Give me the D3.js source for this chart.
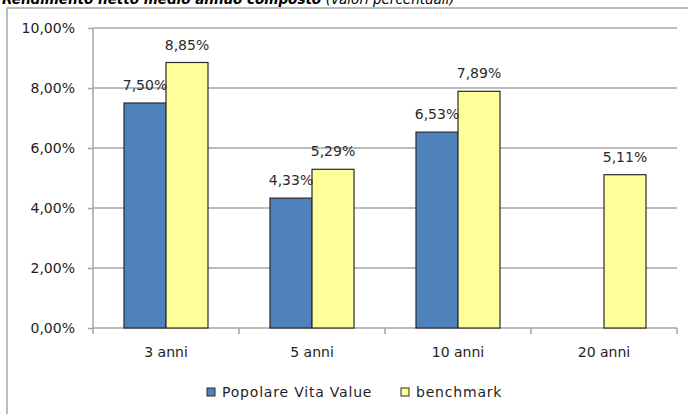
<!DOCTYPE html>
<html>
<head>
<meta charset="utf-8">
<script src="https://cdn.jsdelivr.net/npm/d3@7"></script>
<style>
  body { margin: 0; background: #fff; }
  text { font-family: "DejaVu Sans", Verdana, sans-serif; }
</style>
</head>
<body>
<div id="vis"></div>
<script>
// chart size
var width = 688;
var height = 414;

var categories = ['3 anni', '5 anni', '10 anni', '20 anni'];
var series = ['Popolare Vita Value', 'benchmark'];
var fondo = [7.50, 4.33, 6.53, null];
var benchmark = [8.85, 5.29, 7.89, 5.11];
var ticks = [0, 2, 4, 6, 8, 10];
var colours = ['#4f81bd', '#ffff99'];

var plot = { left: 93, right: 677, top: 28, bottom: 328 };

var svg = d3.select('#vis')
    .append('svg')
    .attr('width', width)
    .attr('height', height);

// frame around the chart
svg.append('rect')
    .attr('x', 7)
    .attr('y', 8)
    .attr('width', 700)
    .attr('height', 420)
    .attr('fill', 'none')
    .attr('stroke', '#a6a6a6')
    .attr('stroke-width', 1.5);

// title, cut at the top like the original
var title = svg.append('text')
    .attr('x', 2)
    .attr('y', 4)
    .attr('font-size', '13.5px')
    .attr('fill', '#000');
title.append('tspan')
    .attr('font-weight', 'bold')
    .attr('font-style', 'italic')
    .text('Rendimento netto medio annuo composto ');
title.append('tspan')
    .attr('font-style', 'italic')
    .text('(valori percentuali)');

var x_scale = d3.scaleBand()
    .domain(categories)
    .range([plot.left, plot.right]);

var x_inner = d3.scaleBand()
    .domain(series)
    .range([0, x_scale.bandwidth()])
    .paddingOuter(0.738);

var y_scale = d3.scaleLinear()
    .domain([0, 10])
    .range([plot.bottom, plot.top]);

var fmt = function(v) {
    return d3.format('.2f')(v).replace('.', ',') + '%';
};

// grid lines
svg.append('g')
    .selectAll('line')
    .data(ticks.slice(1))
    .enter()
    .append('line')
    .attr('x1', plot.left)
    .attr('x2', plot.right)
    .attr('y1', function(d) { return y_scale(d); })
    .attr('y2', function(d) { return y_scale(d); })
    .attr('stroke', '#a6a6a6')
    .attr('stroke-width', 1.5);

// y axis
var y_axis = d3.axisLeft(y_scale)
    .tickValues(ticks)
    .tickSize(5)
    .tickPadding(13)
    .tickFormat(fmt);

var gy = svg.append('g')
    .attr('transform', 'translate(' + plot.left + ',0)')
    .call(y_axis);
gy.selectAll('path, line').attr('stroke', '#a6a6a6').attr('stroke-width', 1.5);
gy.select('.domain').attr('d', 'M0,' + plot.top + 'V' + (plot.bottom + 1));
gy.selectAll('text')
    .attr('font-size', '14px')
    .attr('font-family', '"DejaVu Sans", sans-serif')
    .attr('fill', '#1e1e1e');

// x axis
var bounds = categories.map(function(c) { return x_scale(c); }).concat([plot.right]);
var gx = svg.append('g');
gx.append('line')
    .attr('x1', plot.left)
    .attr('x2', plot.right)
    .attr('y1', plot.bottom)
    .attr('y2', plot.bottom)
    .attr('stroke', '#a6a6a6')
    .attr('stroke-width', 1.5);
gx.selectAll('.tick')
    .data(bounds)
    .enter()
    .append('line')
    .attr('x1', function(d) { return d; })
    .attr('x2', function(d) { return d; })
    .attr('y1', plot.bottom)
    .attr('y2', plot.bottom + 6)
    .attr('stroke', '#a6a6a6')
    .attr('stroke-width', 1.5);
gx.selectAll('.lbl')
    .data(categories)
    .enter()
    .append('text')
    .attr('x', function(d) { return x_scale(d) + x_scale.bandwidth() / 2; })
    .attr('y', 357)
    .attr('text-anchor', 'middle')
    .attr('font-size', '14px')
    .attr('fill', '#1e1e1e')
    .text(function(d) { return d; });

// bars
var rows = [];
categories.forEach(function(c, i) {
    rows.push({ cat: c, s: series[0], v: fondo[i], col: colours[0] });
    rows.push({ cat: c, s: series[1], v: benchmark[i], col: colours[1] });
});
rows = rows.filter(function(d) { return d.v !== null; });

svg.append('g')
    .selectAll('rect')
    .data(rows)
    .enter()
    .append('rect')
    .attr('x', function(d) { return x_scale(d.cat) + x_inner(d.s); })
    .attr('y', function(d) { return y_scale(d.v); })
    .attr('width', x_inner.bandwidth())
    .attr('height', function(d) { return plot.bottom - y_scale(d.v); })
    .attr('fill', function(d) { return d.col; })
    .attr('stroke', '#2a2a2a')
    .attr('stroke-width', 1.2);

// value labels
svg.append('g')
    .selectAll('text')
    .data(rows)
    .enter()
    .append('text')
    .attr('x', function(d) { return x_scale(d.cat) + x_inner(d.s) + x_inner.bandwidth() / 2; })
    .attr('y', function(d) { return y_scale(d.v) - 13; })
    .attr('text-anchor', 'middle')
    .attr('font-size', '14px')
    .attr('fill', '#2a2a2a')
    .text(function(d) { return fmt(d.v); });

// legend
var legend_x = [207, 401];
var legend = svg.append('g')
    .selectAll('g')
    .data(series)
    .enter()
    .append('g')
    .attr('transform', function(d, i) { return 'translate(' + legend_x[i] + ',388)'; });
legend.append('rect')
    .attr('width', 8)
    .attr('height', 8)
    .attr('fill', function(d, i) { return colours[i]; })
    .attr('stroke', '#2a2a2a')
    .attr('stroke-width', 1);
legend.append('text')
    .attr('x', 15)
    .attr('y', 9)
    .attr('font-size', '14px')
    .attr('letter-spacing', '0.8px')
    .attr('fill', '#1e1e1e')
    .text(function(d) { return d; });
</script>
</body>
</html>
